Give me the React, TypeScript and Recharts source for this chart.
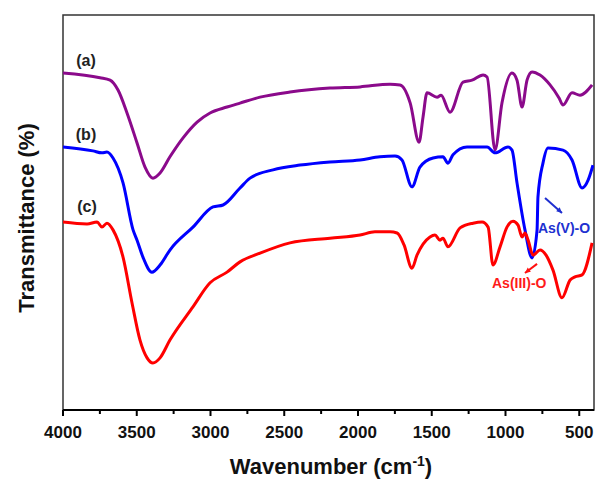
import React from 'react';
import { LineChart, Line, XAxis, YAxis, ReferenceArea, ReferenceLine } from 'recharts';

// wavenumber (cm-1) and transmittance (arbitrary %, offset per curve)
const aWn = [4000, 3749, 3681, 3627, 3566, 3498, 3444, 3390, 3342, 3275, 3186, 3091, 3003, 2888, 2800, 2664, 2461, 2190, 1986, 1783, 1715, 1646, 1586, 1559, 1532, 1464, 1437, 1376, 1288, 1227, 1152, 1125, 1071, 1024, 956, 922, 888, 854, 820, 766, 698, 637, 610, 549, 495, 413];
const aT = [85.3, 84.1, 83.5, 81.0, 75.2, 67.6, 61.5, 58.7, 60.0, 64.1, 68.9, 72.9, 75.2, 76.7, 77.7, 79.2, 80.5, 81.5, 81.8, 82.5, 82.3, 77.7, 67.8, 74.2, 80.3, 79.2, 79.7, 75.4, 83.0, 83.5, 84.8, 84.3, 65.8, 77.7, 85.3, 83.5, 76.7, 83.5, 85.6, 84.8, 82.3, 79.0, 77.2, 80.3, 79.7, 82.3];

const bWn = [4000, 3797, 3736, 3702, 3661, 3593, 3525, 3498, 3458, 3397, 3342, 3275, 3119, 2983, 2915, 2800, 2732, 2576, 2393, 2190, 1986, 1851, 1749, 1702, 1634, 1580, 1491, 1424, 1390, 1356, 1261, 1125, 1071, 983, 956, 922, 868, 820, 786, 780, 746, 712, 610, 549, 481, 440, 407];
const bT = [66.6, 65.6, 65.1, 65.3, 63.8, 57.5, 45.6, 43.0, 38.7, 34.9, 36.7, 40.5, 46.3, 51.4, 51.9, 56.2, 58.7, 60.8, 62.0, 62.8, 63.3, 64.1, 64.3, 63.3, 56.5, 61.5, 63.8, 64.1, 62.5, 64.6, 66.6, 66.6, 65.1, 66.6, 65.8, 57.5, 45.6, 38.5, 45.6, 53.9, 62.5, 66.3, 65.8, 63.3, 56.2, 58.2, 62.0];

const cWn = [4000, 3837, 3769, 3736, 3702, 3661, 3593, 3532, 3478, 3430, 3390, 3342, 3275, 3119, 3003, 2888, 2800, 2664, 2461, 2190, 1986, 1885, 1783, 1735, 1688, 1634, 1600, 1512, 1478, 1444, 1424, 1390, 1308, 1220, 1159, 1118, 1085, 1037, 990, 949, 915, 888, 868, 847, 813, 766, 725, 678, 617, 562, 529, 481, 413];
const cT = [47.6, 47.1, 47.6, 46.3, 47.3, 45.6, 38.7, 27.1, 17.7, 13.2, 11.9, 13.2, 17.7, 26.1, 32.2, 34.9, 37.5, 39.7, 42.3, 43.5, 44.3, 45.1, 45.1, 44.8, 41.8, 35.9, 39.2, 43.8, 44.3, 43.0, 43.5, 41.3, 46.1, 47.3, 47.6, 46.3, 36.7, 41.3, 46.3, 47.8, 46.8, 43.8, 44.8, 43.0, 39.2, 40.5, 39.2, 35.4, 28.4, 32.9, 33.7, 34.2, 42.3];

const xTicks = [4000, 3750, 3500, 3250, 3000, 2750, 2500, 2250, 2000, 1750, 1500, 1250, 1000, 750, 500];

const zip = (xs: number[], ys: number[]) => xs.map((wn, i) => ({ wn, t: ys[i] }));
const dataA = zip(aWn, aT);
const dataB = zip(bWn, bT);
const dataC = zip(cWn, cT);

const FONT = '"Liberation Sans", Arial, sans-serif';

const Tick = ({ x, y, payload }: any) => {
  const major = payload.value % 500 === 0;
  return (
    <g>
      <line x1={x} x2={x} y1={y} y2={y + (major ? 6 : 4)} stroke="#000" strokeWidth={2} />
      {major && (
        <text x={x} y={y + 28} textAnchor="middle" fontSize={17} fontWeight="bold" fill="#111" fontFamily={FONT}>
          {payload.value}
        </text>
      )}
    </g>
  );
};

const arrow = (color: string) => ({ x1, y1, x2, y2 }: any) => {
  const ang = Math.atan2(y2 - y1, x2 - x1);
  const h = 6;
  const p1 = `${x2 - h * Math.cos(ang - 0.45)},${y2 - h * Math.sin(ang - 0.45)}`;
  const p2 = `${x2 - h * Math.cos(ang + 0.45)},${y2 - h * Math.sin(ang + 0.45)}`;
  return (
    <g>
      <line x1={x1} y1={y1} x2={x2} y2={y2} stroke={color} strokeWidth={2} />
      <polygon points={`${x2},${y2} ${p1} ${p2}`} fill={color} />
    </g>
  );
};

export default function App() {
  return (
    <div style={{ position: 'absolute', left: 0, top: 0, background: '#fff' }}>
      <LineChart width={596} height={486} margin={{ top: 15, right: 2, bottom: 46, left: 63 }}>
        <XAxis
          dataKey="wn"
          type="number"
          domain={[400, 4000]}
          reversed
          allowDataOverflow
          ticks={xTicks}
          interval={0}
          tickSize={0}
          tickMargin={0}
          tickLine={false}
          tick={<Tick />}
          height={30}
          axisLine={{ stroke: '#000', strokeWidth: 2 }}
        />
        <YAxis type="number" domain={[0, 100]} width={0} tick={false} tickLine={false} axisLine={{ stroke: '#000', strokeWidth: 2 }} />
        <ReferenceArea x1={4000} x2={400} y1={0} y2={100} fill="none" stroke="#333" strokeWidth={1.5} ifOverflow="visible" />
        <Line data={dataA} dataKey="t" type="monotone" stroke="#8b0a8b" strokeWidth={3} dot={false} isAnimationActive={false} />
        <Line data={dataB} dataKey="t" type="monotone" stroke="#0000ff" strokeWidth={3} dot={false} isAnimationActive={false} />
        <Line data={dataC} dataKey="t" type="monotone" stroke="#ff0000" strokeWidth={3} dot={false} isAnimationActive={false} />
        <ReferenceLine segment={[{ x: 732, y: 53.7 }, { x: 617, y: 49.9 }]} shape={arrow('#1f2fd0')} ifOverflow="visible" />
        <ReferenceLine segment={[{ x: 786, y: 37.0 }, { x: 868, y: 34.7 }]} shape={arrow('#ff1010')} ifOverflow="visible" />
        <text x={538} y={233} fontSize={14} fontWeight="bold" fill="#2030d0" fontFamily={FONT}>As(V)-O</text>
        <text x={492} y={288} fontSize={14} fontWeight="bold" fill="#ff1a1a" fontFamily={FONT}>As(III)-O</text>
        <text x={86} y={66} textAnchor="middle" fontSize={16} fontWeight="bold" fill="#222" fontFamily={FONT}>(a)</text>
        <text x={86} y={140} textAnchor="middle" fontSize={16} fontWeight="bold" fill="#222" fontFamily={FONT}>(b)</text>
        <text x={87} y={212} textAnchor="middle" fontSize={16} fontWeight="bold" fill="#222" fontFamily={FONT}>(c)</text>
        <text
          x={26}
          y={218}
          transform="rotate(-90, 26, 218)"
          textAnchor="middle"
          dominantBaseline="central"
          fontSize={22}
          fontWeight="bold"
          fill="#111"
          fontFamily={FONT}
        >
          Transmittance (%)
        </text>
        <text x={331} y={474} textAnchor="middle" fontSize={22} fontWeight="bold" fill="#111" fontFamily={FONT}>
          Wavenumber (cm<tspan dy={-8} fontSize={14}>-1</tspan><tspan dy={8}>)</tspan>
        </text>
      </LineChart>
    </div>
  );
}
